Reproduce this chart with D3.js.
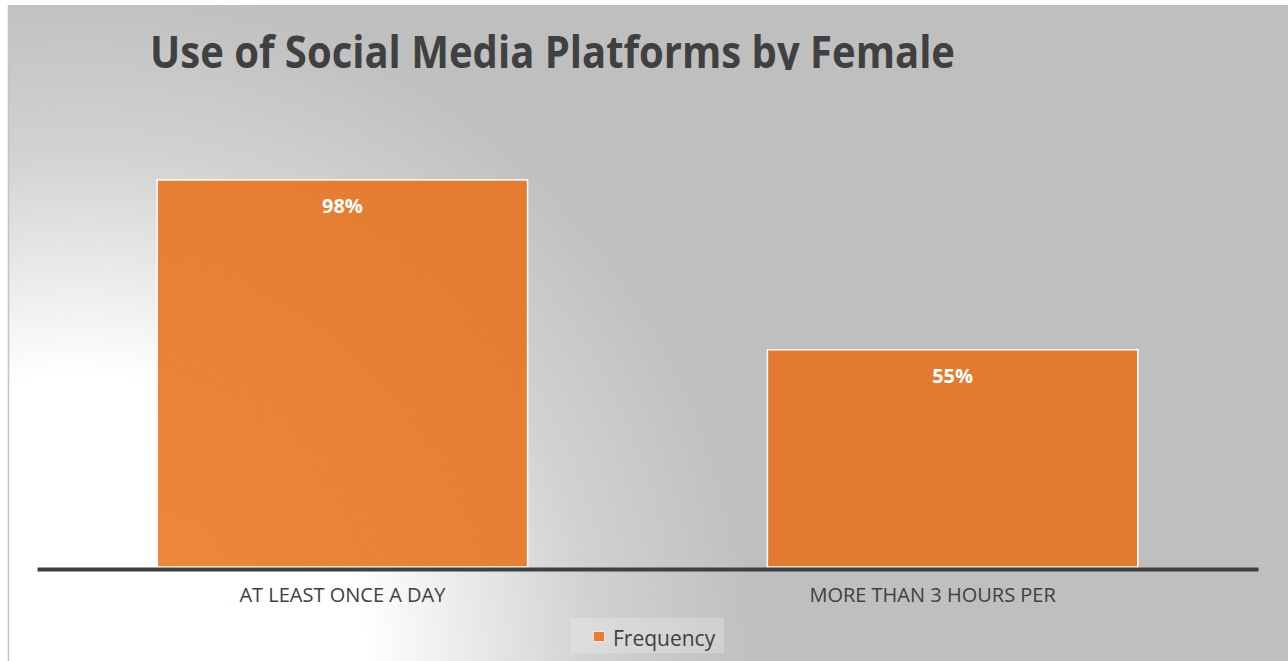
<!DOCTYPE html>
<meta charset="utf-8">
<script src="https://d3js.org/d3.v7.min.js"></script>
<style>
  body { margin: 0; background: #fff; }
  text { font-family: "Open Sans", sans-serif; }
</style>
<div id="my_dataviz"></div>
<script>

// data
var categories = ["AT LEAST ONCE A DAY", "MORE THAN 3 HOURS PER"];
var values = [98, 55];
var labels = ["98%", "55%"];
var seriesName = "Frequency";

var W = 1288, H = 661;
var margin = {top: 172, right: 30, bottom: 94, left: 37},
    width = W - margin.left - margin.right,
    height = H - margin.top - margin.bottom;

var svg = d3.select("#my_dataviz")
  .append("svg")
    .attr("width", W)
    .attr("height", H);

var defs = svg.append("defs");
var bg = defs.append("radialGradient")
  .attr("id", "bgGrad")
  .attr("gradientUnits", "userSpaceOnUse")
  .attr("cx", 80).attr("cy", 661).attr("r", 680);
bg.append("stop").attr("offset", "0").attr("stop-color", "#ffffff");
bg.append("stop").attr("offset", "0.42").attr("stop-color", "#ffffff");
bg.append("stop").attr("offset", "0.75").attr("stop-color", "#d2d2d2");
bg.append("stop").attr("offset", "1").attr("stop-color", "#bfbfbf");

var barGrad = defs.append("radialGradient")
  .attr("id", "barGrad")
  .attr("gradientUnits", "userSpaceOnUse")
  .attr("cx", 80).attr("cy", 661).attr("r", 680);
barGrad.append("stop").attr("offset", "0").attr("stop-color", "#f08a40");
barGrad.append("stop").attr("offset", "0.5").attr("stop-color", "#e98136");
barGrad.append("stop").attr("offset", "1").attr("stop-color", "#e27a2f");

defs.append("clipPath").attr("id", "titleClip")
  .append("rect").attr("x", 0).attr("y", 0).attr("width", W).attr("height", 70);

// chart area background
svg.append("rect")
  .attr("x", 9).attr("y", 5)
  .attr("width", W - 9).attr("height", H - 5)
  .attr("fill", "url(#bgGrad)");
svg.append("line")
  .attr("x1", 8.5).attr("x2", 8.5).attr("y1", 5).attr("y2", H)
  .attr("stroke", "#c4c4c4").attr("stroke-width", 1.5);

// title (clipped at bottom like the original)
svg.append("text")
  .attr("clip-path", "url(#titleClip)")
  .attr("x", 150).attr("y", 68)
  .attr("font-size", 44).attr("font-weight", "bold")
  .attr("fill", "#404040")
  .attr("textLength", 805).attr("lengthAdjust", "spacingAndGlyphs")
  .text("Use of Social Media Platforms by Female");

var x = d3.scaleBand()
  .domain(categories)
  .range([margin.left, margin.left + width])
  .paddingInner(0.393)
  .paddingOuter(0.197);

var y = d3.scaleLinear()
  .domain([0, 100])
  .range([margin.top + height, margin.top]);

// bars
svg.selectAll("rect.bar")
  .data(values)
  .enter()
  .append("rect")
    .attr("class", "bar")
    .attr("x", function(d, i) { return x(categories[i]); })
    .attr("y", function(d) { return y(d); })
    .attr("width", x.bandwidth())
    .attr("height", function(d) { return y(0) - y(d); })
    .attr("fill", "url(#barGrad)")
    .attr("stroke", "#fff")
    .attr("stroke-width", 1.5);

// value labels
svg.selectAll("text.val")
  .data(values)
  .enter()
  .append("text")
    .attr("class", "val")
    .attr("x", function(d, i) { return x(categories[i]) + x.bandwidth() / 2; })
    .attr("y", function(d) { return y(d) + 33; })
    .attr("text-anchor", "middle")
    .attr("font-size", 20).attr("font-weight", "bold")
    .attr("fill", "#fff")
    .text(function(d, i) { return labels[i]; });

// x axis
var xAxis = svg.append("g")
  .attr("transform", "translate(0," + (y(0) + 2) + ")")
  .call(d3.axisBottom(x).tickSize(0).tickPadding(19));
xAxis.select(".domain")
  .attr("stroke", "#404040").attr("stroke-width", 4);
xAxis.selectAll(".tick text")
  .attr("font-family", "Open Sans, sans-serif")
  .attr("font-size", 20)
  .attr("fill", "#404040")
  // the second label is a cut-off wrapped label, sitting a little left of centre
  .attr("dx", function(d, i) { return i === 1 ? -20 : 0; });

// legend
var leg = svg.append("g").attr("transform", "translate(571,618)");
leg.append("rect")
  .attr("width", 153).attr("height", 35)
  .attr("fill", "#ffffff").attr("fill-opacity", 0.22);
leg.append("rect")
  .attr("x", 22.5).attr("y", 13.5).attr("width", 11).attr("height", 10)
  .attr("fill", "#e77d33")
  .attr("stroke", "#fbe5d6").attr("stroke-width", 1);
leg.append("text")
  .attr("x", 42).attr("y", 28)
  .attr("font-size", 21).attr("fill", "#404040")
  .text(seriesName);

</script>
